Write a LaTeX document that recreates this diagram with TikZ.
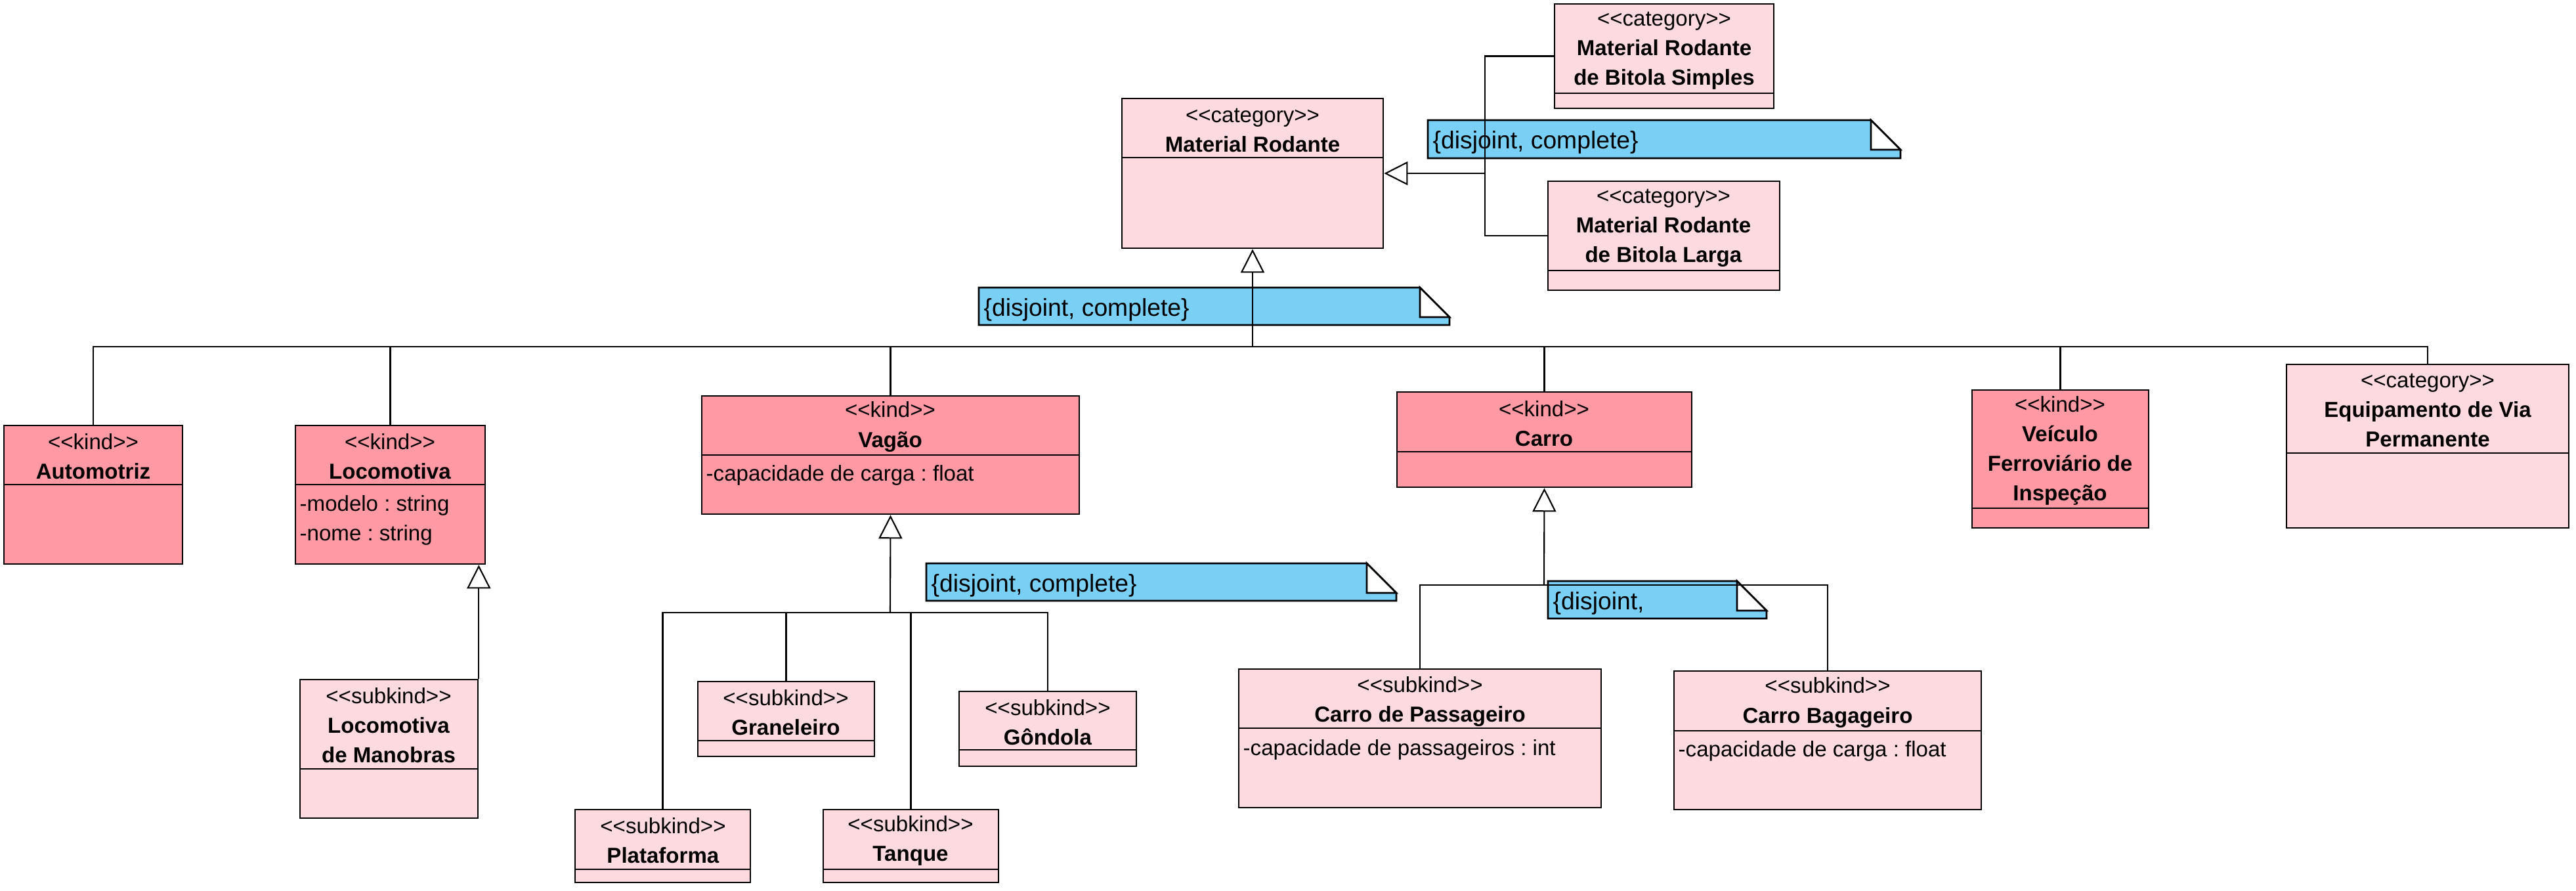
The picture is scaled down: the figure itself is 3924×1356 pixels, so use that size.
\documentclass[tikz,border=0pt]{standalone}
\usepackage{fontspec}
\setmainfont{Liberation Sans}[Ligatures=TeXOff]
\usepackage{tikz}
\usetikzlibrary{arrows.meta, fit}
\frenchspacing

\definecolor{kindpink}{RGB}{255,153,163}
\definecolor{lightpink}{RGB}{253,218,223}
\definecolor{noteblue}{RGB}{122,207,245}

\tikzstyle{darkbox} = [rectangle, draw, fill=kindpink, line width=0.75pt, inner sep=0pt]
\tikzstyle{lightbox} = [rectangle, draw, fill=lightpink, line width=0.75pt, inner sep=0pt]
\tikzstyle{head} = [align=center, inner sep=0pt, font=\fontsize{9.4}{12.8}\selectfont]
\tikzstyle{attr} = [anchor=west, align=left, inner sep=0pt, font=\fontsize{9.4}{12.8}\selectfont]
\tikzstyle{line} = [draw, line width=0.6pt]
\tikzstyle{gen} = [line, -{Triangle[open, length=0.36cm, width=0.36cm]}]
\tikzstyle{note} = [draw, fill=noteblue, line width=0.75pt]
\tikzstyle{notetext} = [anchor=west, inner sep=0pt, font=\fontsize{10.6}{12}\selectfont]

\newcommand{\stereo}[1]{<\kern0pt<#1>\kern0pt>}
% class box: name, style, x1, y1, x2, y2, divider
\newcommand{\umlclass}[7]{%
  \node[#2, fit={(#3,#4) (#5,#6)}] (#1) {};
  \draw[line width=0.75pt] (#1.west |- 0,#7) -- (#1.east |- 0,#7);
}
% note: name, x1, y1, x2, y2, text
\newcommand{\umlnote}[6]{%
  \path[note] (#2,#3) -- ({#4-45},#3) -- (#4,{#3+45}) -- (#4,#5) -- (#2,#5) -- cycle;
  \draw[line width=0.75pt, fill=white] ({#4-45},#3) -- (#4,{#3+45}) -- ({#4-45},{#3+45}) -- cycle;
  \node[notetext] (#1) at ({#2+7},{(#3+#5)/2+5}) {#6};
}

\begin{document}
\begin{tikzpicture}[x=0.01cm, y=-0.01cm]
        \useasboundingbox (0,0) rectangle (3924,1356);

        % Notes
        \umlnote{note-bitola}{2175}{183}{2895}{241}{\{disjoint, complete\}}
        \umlnote{note-rodante}{1491}{438}{2208}{495}{\{disjoint, complete\}}
        \umlnote{note-vagao}{1411}{858}{2127}{915}{\{disjoint, complete\}}
        \umlnote{note-carro}{2358}{885}{2691}{942}{\{disjoint,}

        % Classes
        \umlclass{rodante}{lightbox}{1709}{150}{2107}{378}{240}
        \umlclass{simples}{lightbox}{2368}{6}{2702}{165}{142}
        \umlclass{larga}{lightbox}{2358}{276}{2711}{442}{412}
        \umlclass{automotriz}{darkbox}{6}{648}{278}{859}{738}
        \umlclass{locomotiva}{darkbox}{450}{648}{739}{859}{738}
        \umlclass{manobras}{lightbox}{457}{1035}{728}{1246}{1171}
        \umlclass{vagao}{darkbox}{1069}{603}{1644}{783}{693}
        \umlclass{graneleiro}{lightbox}{1063}{1038}{1332}{1152}{1128}
        \umlclass{gondola}{lightbox}{1461}{1053}{1731}{1167}{1142}
        \umlclass{plataforma}{lightbox}{876}{1233}{1143}{1344}{1324}
        \umlclass{tanque}{lightbox}{1254}{1233}{1521}{1344}{1324}
        \umlclass{carro}{darkbox}{2128}{597}{2577}{742}{688}
        \umlclass{passageiro}{lightbox}{1887}{1019}{2439}{1230}{1109}
        \umlclass{bagageiro}{lightbox}{2550}{1022}{3018}{1233}{1113}
        \umlclass{veiculo}{darkbox}{3004}{594}{3273}{804}{774}
        \umlclass{equipamento}{lightbox}{3483}{555}{3913}{804}{690}

        % Texts
        \node[head] (rodante-t) at (1908,198) {\stereo{category}\\\textbf{Material Rodante}};
        \node[head] (simples-t) at (2535,77) {\stereo{category}\\\textbf{Material Rodante}\\\textbf{de Bitola Simples}};
        \node[head] (larga-t) at (2534,347) {\stereo{category}\\\textbf{Material Rodante}\\\textbf{de Bitola Larga}};
        \node[head] (automotriz-t) at (142,695) {\stereo{kind}\\\textbf{Automotriz}};
        \node[head] (locomotiva-t) at (594,695) {\stereo{kind}\\\textbf{Locomotiva}};
        \node[attr] (locomotiva-a) at (456,792) {-modelo : string\\-nome : string};
        \node[head] (manobras-t) at (592,1105) {\stereo{subkind}\\\textbf{Locomotiva}\\\textbf{de Manobras}};
        \node[head] (vagao-t) at (1356,650) {\stereo{kind}\\\textbf{Vagão}};
        \node[attr] (vagao-a) at (1075,724) {-capacidade de carga : float};
        \node[head] (graneleiro-t) at (1197,1085) {\stereo{subkind}\\\textbf{Graneleiro}};
        \node[head] (gondola-t) at (1596,1100) {\stereo{subkind}\\\textbf{Gôndola}};
        \node[head] (plataforma-t) at (1010,1280) {\stereo{subkind}\\\textbf{Plataforma}};
        \node[head] (tanque-t) at (1387,1280) {\stereo{subkind}\\\textbf{Tanque}};
        \node[head] (carro-t) at (2352,645) {\stereo{kind}\\\textbf{Carro}};
        \node[head] (passageiro-t) at (2163,1068) {\stereo{subkind}\\\textbf{Carro de Passageiro}};
        \node[attr] (passageiro-a) at (1893,1142) {-capacidade de passageiros : int};
        \node[head] (bagageiro-t) at (2784,1070) {\stereo{subkind}\\\textbf{Carro Bagageiro}};
        \node[attr] (bagageiro-a) at (2556,1144) {-capacidade de carga : float};
        \node[head] (veiculo-t) at (3138,686) {\stereo{kind}\\\textbf{Veículo}\\\textbf{Ferroviário de}\\\textbf{Inspeção}};
        \node[head] (equipamento-t) at (3698,625) {\stereo{category}\\\textbf{Equipamento de Via}\\\textbf{Permanente}};

        % Generalizations
        \coordinate (bitola) at (2262,264);
        \path[gen] (bitola) -- (rodante.east |- bitola);
        \path[line] (simples.west) -| (bitola);
        \path[line] (larga.west) -| (bitola);

        \coordinate (topbus) at (1908,528);
        \path[gen] (topbus) -- (rodante.south);
        \foreach \n in {automotriz, locomotiva, vagao, carro, veiculo, equipamento}
            \path[line] (\n.north) |- (topbus);

        \path[gen] (manobras.north east) -- (manobras.north east |- locomotiva.south);

        \coordinate (vagaobus) at (1356,933);
        \path[gen] (vagaobus) -- (vagao.south);
        \foreach \n in {plataforma, graneleiro, tanque, gondola}
            \path[line] (\n.north) |- (vagaobus);

        \coordinate (carrobus) at (2352,891);
        \path[gen] (carrobus) -- (carro.south);
        \foreach \n in {passageiro, bagageiro}
            \path[line] (\n.north) |- (carrobus);
\end{tikzpicture}
\end{document}
